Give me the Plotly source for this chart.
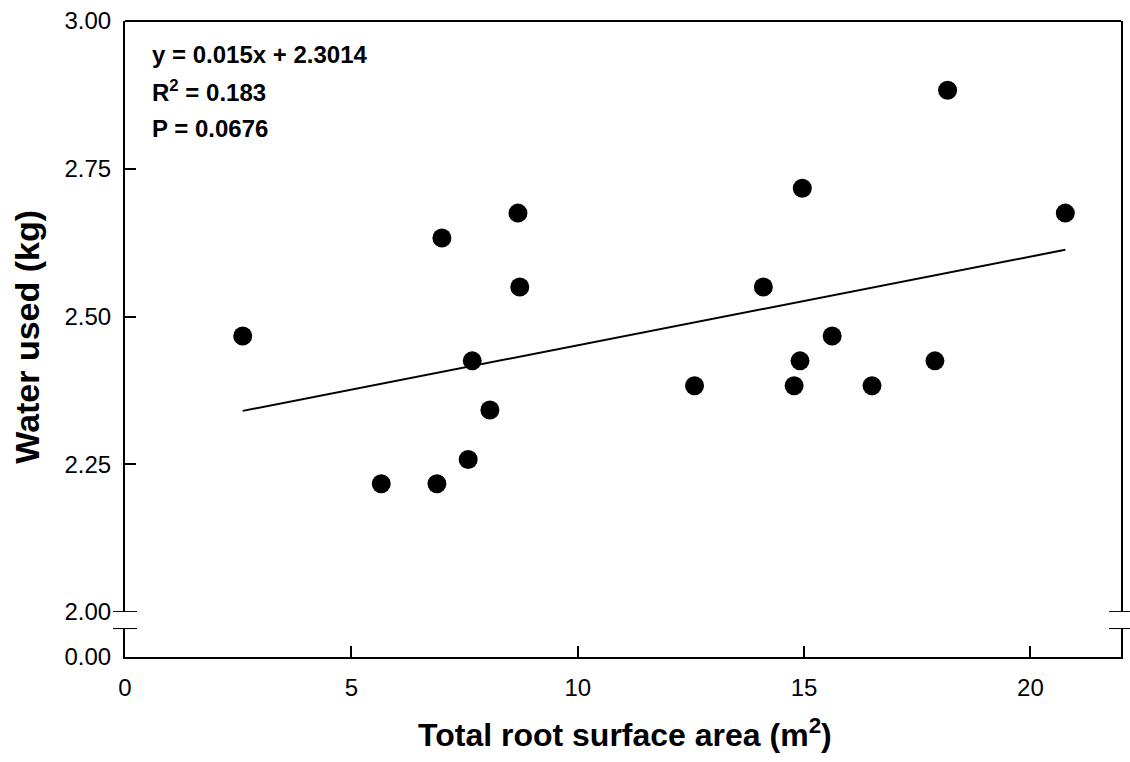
import plotly.graph_objects as go

# Total root surface area (m^2) and water used (kg) per plant
root_area = [2.60, 5.66, 6.89, 7.00, 7.58, 7.67, 8.06, 8.68, 8.72, 12.58,
             14.10, 14.78, 14.96, 14.91, 15.62, 16.50, 17.89, 18.17, 20.77]
water_used = [2.467, 2.217, 2.217, 2.633, 2.258, 2.425, 2.342, 2.675, 2.550, 2.383,
              2.550, 2.383, 2.717, 2.425, 2.467, 2.383, 2.425, 2.883, 2.675]

# Linear regression reported on the chart
slope = 0.015
intercept = 2.3014
r_squared = 0.183
p_value = 0.0676

x_ticks = [0, 5, 10, 15, 20]
y_ticks_upper = [2.00, 2.25, 2.50, 2.75, 3.00]
y_ticks_lower = [0.00]

FONT = "Liberation Sans, Arial, sans-serif"
W, H = 1130, 762
ML, MR, MT, MB = 125, 7, 20, 105
plot_w = W - ML - MR
plot_h = H - MT - MB
# upper panel 20..612 px, lower panel 628..657 px
upper_dom = [(657 - 612) / plot_h, 1.0]
lower_dom = [0.0, (657 - 628) / plot_h]
lower_top = 0.049

fit_x = [min(root_area), max(root_area)]
fit_y = [slope * v + intercept for v in fit_x]

fig = go.Figure()
fig.add_trace(go.Scatter(
    x=fit_x, y=fit_y, mode="lines",
    line=dict(color="black", width=2), yaxis="y", showlegend=False,
    hoverinfo="skip"))
fig.add_trace(go.Scatter(
    x=root_area, y=water_used, mode="markers",
    marker=dict(color="black", size=19, line=dict(width=0)),
    yaxis="y", showlegend=False))
# keeps the lower segment of the broken y axis drawn
fig.add_trace(go.Scatter(x=[None], y=[None], yaxis="y2", showlegend=False))

axis_common = dict(
    showgrid=False, zeroline=False, showline=True, linecolor="black",
    linewidth=2, ticks="inside", ticklen=11, tickwidth=2, tickcolor="black",
    tickfont=dict(family=FONT, size=24, color="black"))

fig.update_layout(
    width=W, height=H,
    margin=dict(l=ML, r=MR, t=MT, b=MB),
    plot_bgcolor="white", paper_bgcolor="white",
    xaxis=dict(range=[0, 22], tickvals=x_ticks, anchor="y2",
               ticklabelstandoff=8, **axis_common),
    yaxis=dict(domain=upper_dom, range=[2.0, 3.0], tickvals=y_ticks_upper,
               tickformat=".2f", mirror=True, anchor="x",
               ticklabelstandoff=7, **axis_common),
    yaxis2=dict(domain=lower_dom, range=[0, lower_top], tickvals=y_ticks_lower,
                tickformat=".2f", mirror=True, anchor="x",
                ticklabelstandoff=7, **axis_common),
)

# frame top edge
fig.add_shape(type="line", xref="paper", yref="paper", x0=0, x1=1, y0=1, y1=1,
              line=dict(color="black", width=2))

# break marks on both sides of the broken y axis
half = 12 / plot_w
for xc in (0, 1):
    fig.add_shape(type="line", xref="paper", yref="y", x0=xc - half, x1=xc + half,
                  y0=2.0, y1=2.0, line=dict(color="black", width=2))
    fig.add_shape(type="line", xref="paper", yref="y2", x0=xc - half, x1=xc + half,
                  y0=lower_top, y1=lower_top, line=dict(color="black", width=2))

stats_lines = [
    f"y = {slope}x + {intercept}",
    f"R<sup>2</sup> = {r_squared}",
    f"P = {p_value}",
]
stats_y = [2.944, 2.882, 2.818]
for txt, yy in zip(stats_lines, stats_y):
    fig.add_annotation(text=f"<b>{txt}</b>", xref="paper", yref="y",
                       x=(150 - ML) / plot_w, y=yy, xanchor="left", yanchor="middle",
                       showarrow=False, font=dict(family=FONT, size=24, color="black"))

fig.add_annotation(text="<b>Total root surface area (m<sup>2</sup>)</b>",
                   xref="paper", yref="paper", x=(626 - ML) / plot_w,
                   y=(657 - 733) / plot_h, xanchor="center", yanchor="middle",
                   showarrow=False, font=dict(family=FONT, size=32, color="black"))
fig.add_annotation(text="<b>Water used (kg)</b>", textangle=-90,
                   xref="paper", yref="paper", x=(26 - ML) / plot_w,
                   y=(657 - 336) / plot_h, xanchor="center", yanchor="middle",
                   showarrow=False, font=dict(family=FONT, size=34, color="black"))

fig.write_html("out.html")
